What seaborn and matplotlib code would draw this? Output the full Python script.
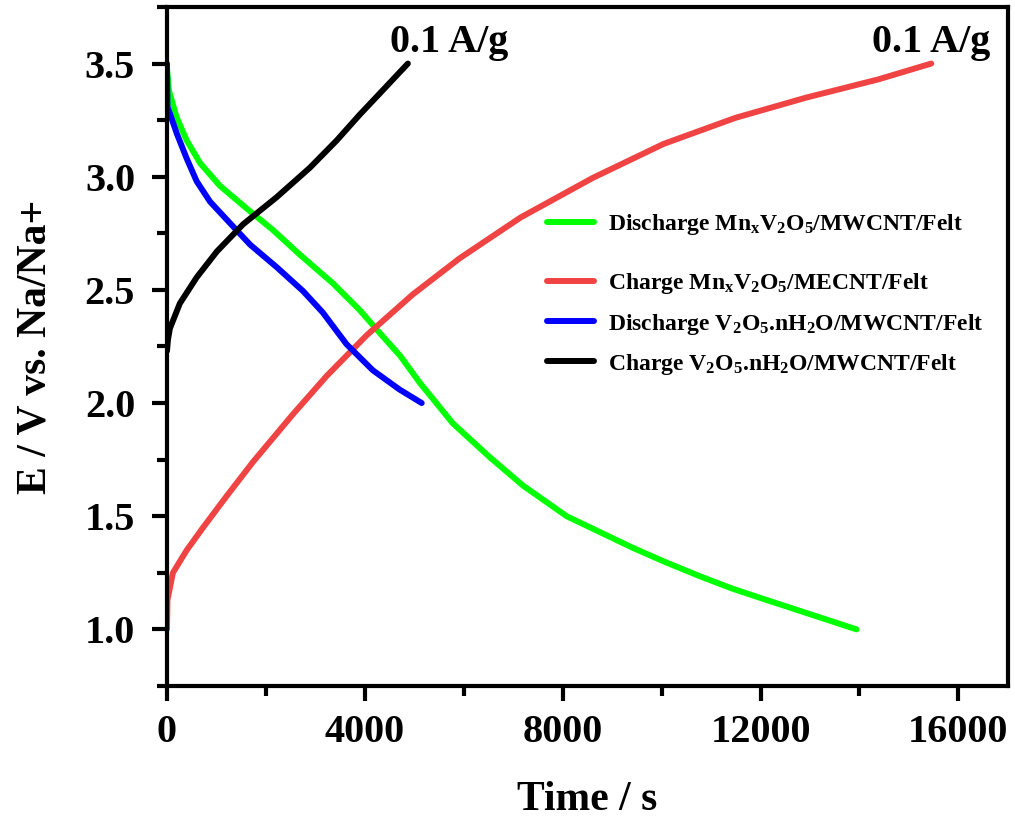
import seaborn as sns
import matplotlib.pyplot as plt

# galvanostatic charge/discharge curves (time in s, potential in V)

t_dis_mn = [0, 40, 200, 400, 670, 1070, 1610, 2140, 2690, 3350, 3900, 4300, 4710, 5110, 5780, 6530,
            7200, 8080, 9420, 10100, 10770, 11430, 12120, 13940]
e_dis_mn = [3.48, 3.38, 3.26, 3.16, 3.06, 2.96, 2.86, 2.765, 2.655, 2.53, 2.41, 2.31, 2.21, 2.09, 1.91, 1.76,
            1.635, 1.50, 1.36, 1.295, 1.235, 1.18, 1.13, 1.00]

t_chg_mn = [0, 10, 120, 400, 730, 1210, 1740, 2545, 3230, 4040, 4970, 5920, 7150, 8610, 10040, 11490,
            12930, 14380, 15450]
e_chg_mn = [1.00, 1.13, 1.25, 1.35, 1.45, 1.59, 1.74, 1.95, 2.12, 2.30, 2.48, 2.64, 2.82, 2.995, 3.145, 3.26,
            3.35, 3.43, 3.50]

t_dis_v = [0, 10, 200, 400, 600, 870, 1210, 1680, 2220, 2750, 3150, 3630, 4160, 4700, 5150]
e_dis_v = [3.50, 3.31, 3.19, 3.08, 2.98, 2.89, 2.81, 2.70, 2.60, 2.495, 2.40, 2.26, 2.145, 2.06, 2.00]

t_chg_v = [0, 20, 60, 260, 600, 1010, 1540, 2220, 2890, 3430, 3900, 4440, 4870]
e_chg_v = [2.23, 2.28, 2.33, 2.44, 2.555, 2.67, 2.79, 2.91, 3.04, 3.16, 3.275, 3.40, 3.50]

labels = ['Discharge Mn$_x$V$_2$O$_5$/MWCNT/Felt',
          'Charge Mn$_x$V$_2$O$_5$/MECNT/Felt',
          'Discharge V$_2$O$_5$.nH$_2$O/MWCNT/Felt',
          'Charge V$_2$O$_5$.nH$_2$O/MWCNT/Felt']
colors = ['#00ff00', '#f04444', '#0000ff', '#000000']

sns.set_style('ticks')
plt.rcParams['font.family'] = ['Liberation Serif', 'DejaVu Serif']
plt.rcParams['font.weight'] = 'bold'
plt.rcParams['mathtext.fontset'] = 'custom'
plt.rcParams['mathtext.rm'] = 'Liberation Serif:bold'
plt.rcParams['mathtext.it'] = 'Liberation Serif:bold'
plt.rcParams['mathtext.bf'] = 'Liberation Serif:bold'
for key in ['text.color', 'axes.labelcolor', 'xtick.color', 'ytick.color', 'axes.edgecolor']:
    plt.rcParams[key] = 'black'

fig = plt.figure(figsize=(10.15, 8.21), dpi=100)
ax = fig.add_axes([0.1645, 0.1645, 0.8285, 0.827])

series = [(t_dis_mn, e_dis_mn), (t_chg_mn, e_chg_mn), (t_dis_v, e_dis_v), (t_chg_v, e_chg_v)]
for (t, e), lab, c in zip(series, labels, colors):
    sns.lineplot(x=t, y=e, sort=False, color=c, lw=4.3, label=lab, ax=ax,
                 solid_capstyle='round', solid_joinstyle='round')

ax.set_xlim(0, 17000)
ax.set_ylim(0.75, 3.75)
ax.set_xticks([0, 4000, 8000, 12000, 16000])
ax.set_xticks([2000, 6000, 10000, 14000], minor=True)
ax.set_yticks([1.0, 1.5, 2.0, 2.5, 3.0, 3.5])
ax.set_yticks([0.75, 1.25, 1.75, 2.25, 2.75, 3.25, 3.75], minor=True)
ax.set_yticklabels(['1.0', '1.5', '2.0', '2.5', '3.0', '3.5'])

for s in ax.spines.values():
    s.set_linewidth(3)
ax.tick_params(which='major', direction='out', length=11, width=3, labelsize=29)
ax.tick_params(which='minor', direction='out', length=7, width=3)
ax.tick_params(axis='y', which='major', pad=12)
ax.tick_params(axis='x', which='major', pad=9)
for lab in ax.get_xticklabels() + ax.get_yticklabels():
    lab.set_fontweight('bold')

ax.set_xlabel('Time / s', fontsize=30, fontweight='bold', labelpad=22)
ax.set_ylabel('E / V vs. Na/Na+', fontsize=30, fontweight='bold', labelpad=22)

ax.text(4500, 3.55, '0.1 A/g', fontsize=29, fontweight='bold')
ax.text(14250, 3.55, '0.1 A/g', fontsize=29, fontweight='bold')

# legend: first entry set apart from the other three, as in the original figure
handles, names = ax.get_legend_handles_labels()
leg_kw = dict(frameon=False, fontsize=17, handlelength=2.0, handletextpad=0.6,
              borderpad=0, borderaxespad=0)
leg1 = ax.legend(handles[:1], names[:1], loc='center left', bbox_to_anchor=(0.452, 0.679), **leg_kw)
ax.add_artist(leg1)
ax.legend(handles[1:], names[1:], loc='center left', bbox_to_anchor=(0.452, 0.533),
          labelspacing=0.64, **leg_kw)

fig.savefig('out.png', dpi=100)
